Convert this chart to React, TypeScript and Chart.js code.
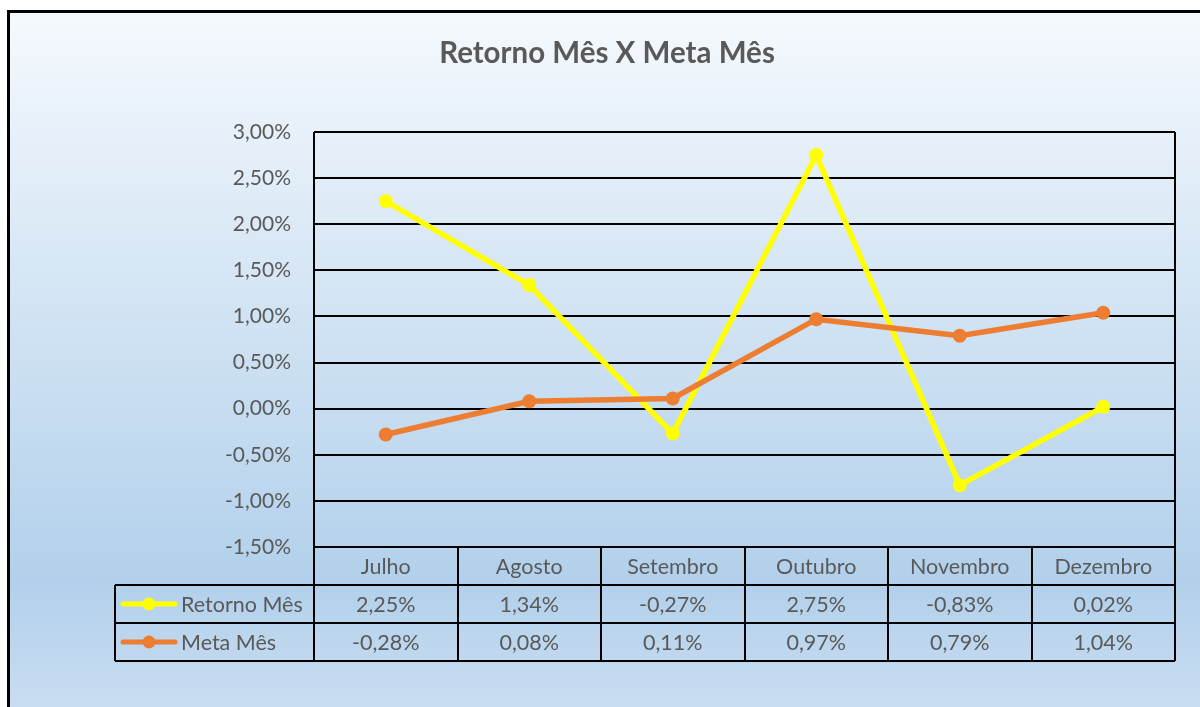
import React, { useEffect, useRef } from "react";
import { Chart, registerables } from "chart.js";

Chart.register(...registerables);

const categories = ["Julho", "Agosto", "Setembro", "Outubro", "Novembro", "Dezembro"];
const retornoMes = [2.25, 1.34, -0.27, 2.75, -0.83, 0.02];
const metaMes = [-0.28, 0.08, 0.11, 0.97, 0.79, 1.04];
const seriesNames = ["Retorno Mês", "Meta Mês"];
const yMin = -1.5;
const yMax = 3.0;
const yStep = 0.5;
const title = "Retorno Mês X Meta Mês";

const FONT = "Lato, 'Open Sans', sans-serif";
const TEXT = "#595959";
const YELLOW = "#FFFF00";
const ORANGE = "#ED7D31";

const fmt = (v: number) => v.toFixed(2).replace(".", ",") + "%";

export default function App() {
  const ref = useRef<HTMLCanvasElement | null>(null);

  useEffect(() => {
    const canvas = ref.current;
    if (!canvas) return;

    const ROW = 38;
    const LEGEND_LEFT = 115;

    const decor = {
      id: "decor",
      beforeDraw(chart: any) {
        const ctx = chart.ctx as CanvasRenderingContext2D;
        ctx.save();
        ctx.fillStyle = "#ffffff";
        ctx.fillRect(0, 0, chart.width, chart.height);
        const g = ctx.createLinearGradient(0, 10, 0, chart.height);
        g.addColorStop(0, "#F5F9FD");
        g.addColorStop(0.82, "#B2D0EB");
        g.addColorStop(1, "#C9DDF1");
        ctx.fillStyle = g;
        ctx.fillRect(7, 10, chart.width, chart.height);
        ctx.lineWidth = 3;
        ctx.strokeStyle = "#000";
        ctx.strokeRect(8.5, 11.5, chart.width + 50, chart.height + 50);
        // title
        ctx.fillStyle = TEXT;
        ctx.font = `bold 29.5px ${FONT}`;
        ctx.textAlign = "center";
        ctx.textBaseline = "middle";
        ctx.fillText(title, 607, 53);
        ctx.restore();
      },
      afterDraw(chart: any) {
        const ctx = chart.ctx as CanvasRenderingContext2D;
        const area = chart.chartArea;
        const xs = chart.scales.x;
        const left = area.left;
        const right = area.right;
        const bottom = area.bottom;
        const colW = (right - left) / categories.length;
        const r1 = bottom + ROW;
        const r2 = r1 + ROW;
        const r3 = r2 + ROW;
        ctx.save();
        ctx.strokeStyle = "#000";
        ctx.lineWidth = 2;
        ctx.beginPath();
        ctx.moveTo(left, area.top);
        ctx.lineTo(left, r3);
        ctx.moveTo(right, area.top);
        ctx.lineTo(right, r3);
        for (let k = 1; k < categories.length; k++) {
          const x = Math.round(left + k * colW);
          ctx.moveTo(x, bottom);
          ctx.lineTo(x, r3);
        }
        [r1, r2, r3].forEach((y) => {
          ctx.moveTo(LEGEND_LEFT, y);
          ctx.lineTo(right, y);
        });
        ctx.moveTo(LEGEND_LEFT, r1);
        ctx.lineTo(LEGEND_LEFT, r3);
        ctx.stroke();

        ctx.fillStyle = TEXT;
        ctx.font = `21.5px ${FONT}`;
        ctx.textBaseline = "middle";
        ctx.textAlign = "center";
        categories.forEach((c, i) => {
          const cx = xs.getPixelForValue(i);
          ctx.fillText(c, cx, bottom + ROW / 2 + 1);
          ctx.fillText(fmt(retornoMes[i]), cx, r1 + ROW / 2 + 1);
          ctx.fillText(fmt(metaMes[i]), cx, r2 + ROW / 2 + 1);
        });

        const rows = [
          { y: r1 + ROW / 2, color: YELLOW, name: seriesNames[0] },
          { y: r2 + ROW / 2, color: ORANGE, name: seriesNames[1] },
        ];
        rows.forEach((r) => {
          ctx.strokeStyle = r.color;
          ctx.lineWidth = 5;
          ctx.lineCap = "round";
          ctx.beginPath();
          ctx.moveTo(123, r.y);
          ctx.lineTo(175, r.y);
          ctx.stroke();
          ctx.fillStyle = r.color;
          ctx.beginPath();
          ctx.arc(149, r.y, 6.5, 0, Math.PI * 2);
          ctx.fill();
          ctx.fillStyle = TEXT;
          ctx.textAlign = "left";
          ctx.fillText(r.name, 181, r.y + 1);
        });
        ctx.restore();
      },
    };

    const chart = new Chart(canvas, {
      type: "line",
      data: {
        labels: categories,
        datasets: [
          {
            label: seriesNames[0],
            data: retornoMes,
            borderColor: YELLOW,
            backgroundColor: YELLOW,
            borderWidth: 5.5,
            pointRadius: 7,
            pointBorderWidth: 0,
            pointBackgroundColor: YELLOW,
            tension: 0,
            order: 1,
          },
          {
            label: seriesNames[1],
            data: metaMes,
            borderColor: ORANGE,
            backgroundColor: ORANGE,
            borderWidth: 5.5,
            pointRadius: 7,
            pointBorderWidth: 0,
            pointBackgroundColor: ORANGE,
            tension: 0,
            order: 0,
          },
        ],
      },
      options: {
        responsive: false,
        animation: false,
        devicePixelRatio: 1,
        layout: { padding: { left: 214, top: 132, right: 25, bottom: 160 } },
        plugins: { legend: { display: false }, tooltip: { enabled: false }, title: { display: false } },
        scales: {
          x: { type: "category", display: false, offset: true },
          y: {
            min: yMin,
            max: yMax,
            ticks: {
              stepSize: yStep,
              callback: (v: any) => fmt(Number(v)),
              color: TEXT,
              font: { family: FONT, size: 21 },
              padding: 23,
            },
            grid: { color: "#000", lineWidth: 2, drawTicks: false },
            border: { display: false },
            afterFit: (s: any) => {
              s.width = 100;
            },
          },
        },
      },
      plugins: [decor],
    });
    return () => chart.destroy();
  }, []);

  return (
    <div style={{ position: "fixed", left: 0, top: 0, width: 1200, height: 707 }}>
      <canvas ref={ref} width={1200} height={707} style={{ width: 1200, height: 707, display: "block" }} />
    </div>
  );
}
